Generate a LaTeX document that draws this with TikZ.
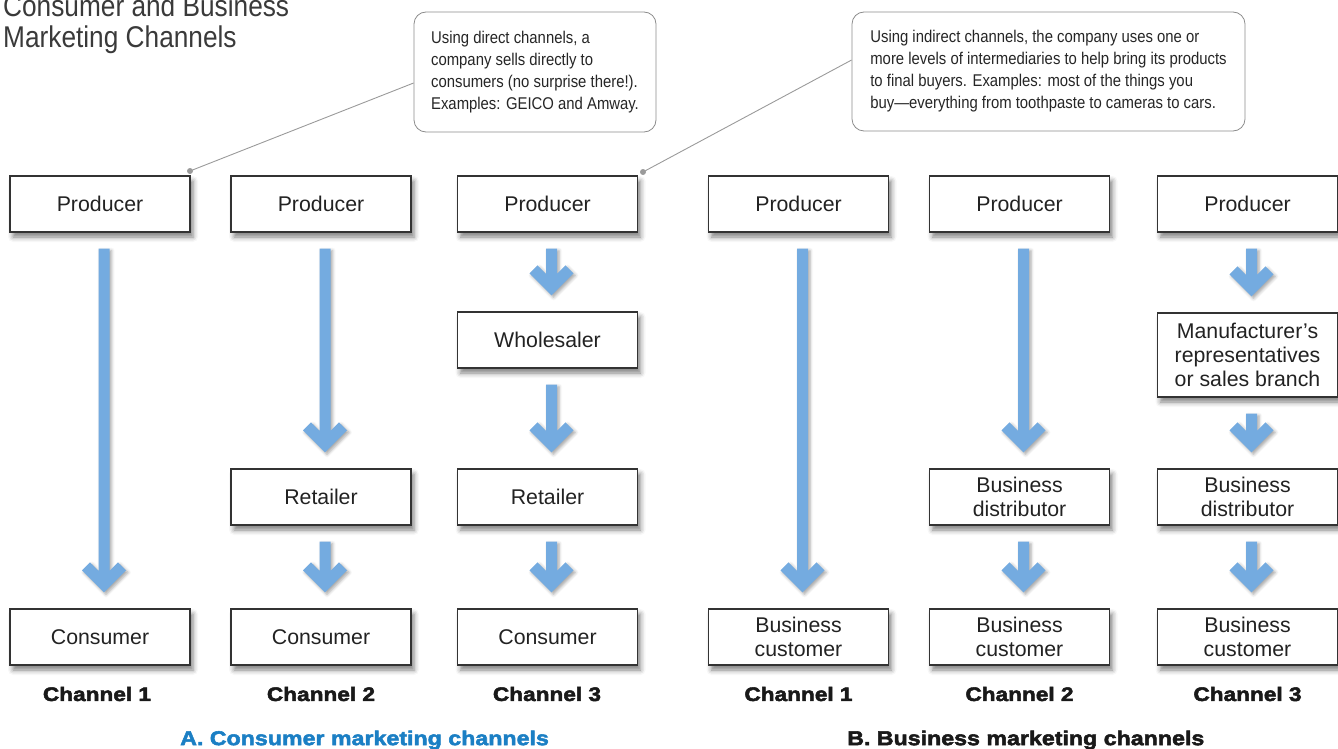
\documentclass[tikz,border=0pt]{standalone}
\usepackage{fontspec}
\setmainfont{Liberation Sans}
\newfontfamily\condfont[FakeStretch=0.875]{Liberation Sans}
\newfontfamily\heavyfont[FakeStretch=1.16,FakeBold=2.6]{Liberation Sans}
\usetikzlibrary{shadows.blur,calc}
\definecolor{arrowblue}{HTML}{74ABE0}
\definecolor{secblue}{HTML}{1B7FC4}
\definecolor{titlegray}{HTML}{3A3A3A}
\definecolor{boxtext}{HTML}{222222}
\definecolor{leadgray}{HTML}{9A9A9A}
\newcommand\flowarr[2]{%
  \path[flowarrow] let \p1=(#1.south), \p2=(#2.north) in
  ({\x1-1.5pt},{\y1-16pt}) -- ({\x1-1.5pt},{\y2+37.5pt}) --
  ({\x1-10pt},{\y2+46pt}) -- ({\x1-18pt},{\y2+38pt}) --
  ({\x1+4pt},{\y2+16pt}) --
  ({\x1+26pt},{\y2+38pt}) -- ({\x1+18pt},{\y2+46pt}) --
  ({\x1+9.5pt},{\y2+37.5pt}) -- ({\x1+9.5pt},{\y1-16pt}) -- cycle;}
\begin{document}
\begin{tikzpicture}[x=1pt,y=-1pt,
  box/.style={draw=black!80, line width=1.1pt, fill=white, text=boxtext,
    minimum width=180pt, minimum height=56pt, inner sep=0pt, align=center,
    font=\fontsize{21.3}{24}\selectfont,
    blur shadow={shadow xshift=3pt, shadow yshift=-5pt, shadow blur radius=5pt, shadow opacity=50}},
  callout/.style={draw=black!45, line width=0.8pt, rounded corners=12pt, fill=white,
    align=left, inner sep=0pt, text=black!85, font=\condfont\fontsize{17}{22}\selectfont},
  flowarrow/.style={fill=arrowblue, draw=none,
    blur shadow={shadow xshift=2pt, shadow yshift=-2pt, shadow blur radius=3pt, shadow opacity=35}},
  chan/.style={font=\heavyfont\bfseries\fontsize{19.5}{22}\selectfont, text=black!90, inner sep=0pt},
  section/.style={font=\heavyfont\bfseries\fontsize{20}{22}\selectfont, inner sep=0pt, anchor=west},
  leader/.style={draw=leadgray, line width=0.9pt}
]
\useasboundingbox (0,0) rectangle (1338,749);

% title
\node[anchor=north west, inner sep=0pt, align=left, text=titlegray,
  font=\condfont\fontsize{30}{31}\selectfont] (title) at (3,-5)
  {Consumer and Business\\Marketing Channels};

% callouts
\coordinate (d1) at (190,171);
\coordinate (d2) at (643,172);
\node[callout, minimum width=242pt, minimum height=120pt] (c1) at (535,72)
  {Using direct channels, a\\company sells directly to\\consumers (no surprise there!).\\Examples: GEICO and Amway.};
\node[callout, minimum width=393pt, minimum height=119pt] (c2) at (1048.5,71.5)
  {Using indirect channels, the company uses one or\\more levels of intermediaries to help bring its products\\to final buyers. Examples: most of the things you\\buy—everything from toothpaste to cameras to cars.};
\draw[leader] ([yshift=-11pt]c1.west) -- (d1);
\draw[leader] ([yshift=11.5pt]c2.west) -- (d2);
\fill[leadgray] (d1) circle (3);
\fill[leadgray] (d2) circle (3);

% producers
\node[box] (p1) at (100,204) {Producer};
\node[box] (p2) at (321,204) {Producer};
\node[box] (p3) at (547.5,204) {Producer};
\node[box] (p4) at (798.5,204) {Producer};
\node[box] (p5) at (1019.5,204) {Producer};
\node[box] (p6) at (1247.5,204) {Producer};

% intermediaries
\node[box] (w3) at (547.5,340) {Wholesaler};
\node[box, minimum height=84pt] (m6) at (1247.5,355) {Manufacturer’s\\representatives\\or sales branch};
\node[box] (r2) at (321,497) {Retailer};
\node[box] (r3) at (547.5,497) {Retailer};
\node[box] (b5) at (1019.5,497) {Business\\distributor};
\node[box] (b6) at (1247.5,497) {Business\\distributor};

% final
\node[box] (e1) at (100,637) {Consumer};
\node[box] (e2) at (321,637) {Consumer};
\node[box] (e3) at (547.5,637) {Consumer};
\node[box] (e4) at (798.5,637) {Business\\customer};
\node[box] (e5) at (1019.5,637) {Business\\customer};
\node[box] (e6) at (1247.5,637) {Business\\customer};

% arrows
\flowarr{p1}{e1}
\flowarr{p2}{r2}
\flowarr{r2}{e2}
\flowarr{p3}{w3}
\flowarr{w3}{r3}
\flowarr{r3}{e3}
\flowarr{p4}{e4}
\flowarr{p5}{b5}
\flowarr{b5}{e5}
\flowarr{p6}{m6}
\flowarr{m6}{b6}
\flowarr{b6}{e6}

% channel labels
\node[chan] (l1) at (97,694) {Channel 1};
\node[chan] (l2) at (321,694) {Channel 2};
\node[chan] (l3) at (547,694) {Channel 3};
\node[chan] (l4) at (798.5,694) {Channel 1};
\node[chan] (l5) at (1019.5,694) {Channel 2};
\node[chan] (l6) at (1247.5,694) {Channel 3};

% section titles
\node[section, text=secblue] (sa) at (180,740) {A. Consumer marketing channels};
\node[section, text=black!90] (sb) at (847,740) {B. Business marketing channels};
\end{tikzpicture}
\end{document}
